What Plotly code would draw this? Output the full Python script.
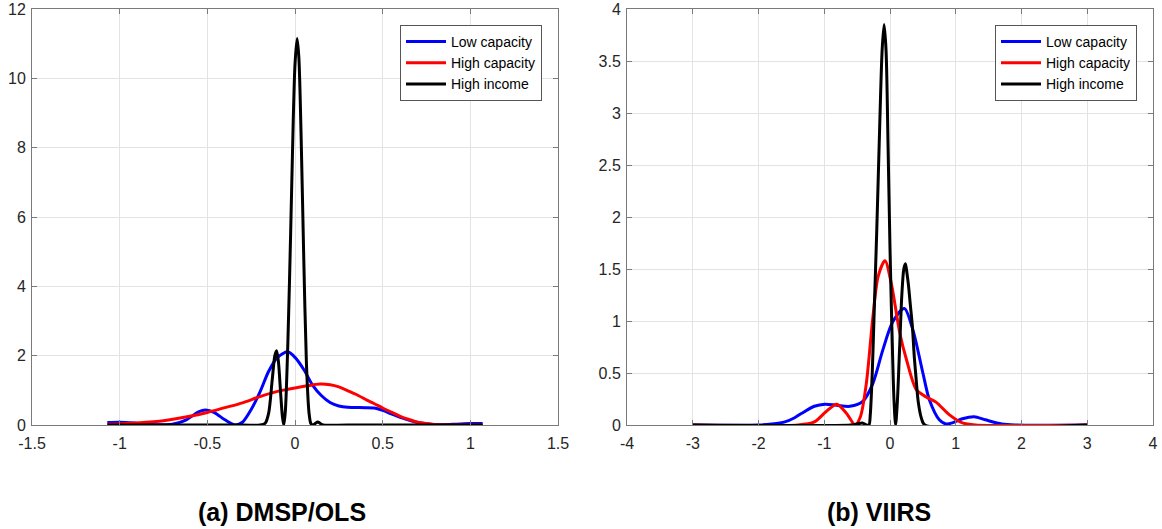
import plotly.graph_objects as go

# ---------------- Data ----------------
# (a) DMSP/OLS
a_low_x = [-1.07, -1.0, -0.9, -0.8, -0.7, -0.62, -0.55, -0.51, -0.46, -0.4, -0.34, -0.3, -0.25, -0.2, -0.15, -0.1,
           -0.042, 0.0, 0.05, 0.1, 0.15, 0.2, 0.25, 0.3, 0.4, 0.45, 0.5, 0.55, 0.6, 0.7, 0.8, 0.9, 1.0, 1.07]
a_low_y = [0.07, 0.08, 0.05, 0.01, 0.02, 0.15, 0.38, 0.43, 0.36, 0.15, 0.0, 0.08, 0.45, 0.95, 1.55, 1.95,
           2.11, 1.95, 1.6, 1.15, 0.85, 0.65, 0.55, 0.51, 0.5, 0.49, 0.42, 0.32, 0.22, 0.07, 0.01, 0.02, 0.04, 0.04]

a_high_x = [-1.07, -0.9, -0.75, -0.6, -0.5, -0.4, -0.3, -0.2, -0.1, 0.0, 0.07, 0.143, 0.2, 0.25, 0.31, 0.35,
            0.41, 0.45, 0.5, 0.55, 0.6, 0.65, 0.7, 0.77, 0.85, 0.95, 1.07]
a_high_y = [0.02, 0.06, 0.12, 0.25, 0.36, 0.5, 0.64, 0.82, 0.97, 1.07, 1.13, 1.18, 1.16, 1.1, 0.97, 0.88,
            0.72, 0.62, 0.49, 0.37, 0.25, 0.16, 0.08, 0.03, 0.0, 0.0, 0.0]

a_inc_x = [-1.07, -0.3, -0.2, -0.17, -0.15, -0.13, -0.115, -0.105, -0.095, -0.083, -0.072, -0.064, -0.055,
           -0.04, -0.025, -0.01, 0.0, 0.012, 0.022, 0.035, 0.05, 0.065, 0.08, 0.09, 0.1, 0.115, 0.13, 0.145, 0.16,
           0.3, 1.07]
a_inc_y = [0.0, 0.0, 0.0, 0.05, 0.35, 1.3, 2.0, 2.14, 1.85, 1.0, 0.25, 0.0, 0.4,
           2.5, 5.5, 8.8, 10.4, 11.15, 10.6, 8.3, 4.8, 1.8, 0.35, 0.05, 0.0, 0.04, 0.09, 0.04, 0.0,
           0.0, 0.0]

# (b) VIIRS
b_low_x = [-3.0, -2.0, -1.8, -1.6, -1.45, -1.35, -1.15, -0.99, -0.81, -0.61, -0.41, -0.26, -0.11, 0.04, 0.218,
           0.35, 0.5, 0.6, 0.75, 0.85, 0.95, 1.1, 1.28, 1.45, 1.7, 1.9, 3.0]
b_low_y = [0.0, 0.0, 0.01, 0.03, 0.07, 0.11, 0.18, 0.2, 0.19, 0.18, 0.23, 0.4, 0.72, 0.99, 1.12,
           0.91, 0.5, 0.24, 0.05, 0.01, 0.02, 0.06, 0.08, 0.05, 0.01, 0.0, 0.0]

b_high_x = [-3.0, -1.4, -1.15, -0.97, -0.81, -0.66, -0.53, -0.45, -0.36, -0.26, -0.18, -0.076, 0.02, 0.15,
            0.25, 0.4, 0.55, 0.7, 0.9, 1.1, 1.3, 3.0]
b_high_y = [0.0, 0.0, 0.03, 0.13, 0.2, 0.11, 0.0, 0.08, 0.4, 1.04, 1.43, 1.58, 1.36, 0.88,
            0.63, 0.34, 0.27, 0.22, 0.1, 0.02, 0.0, 0.0]

b_inc_x = [-3.0, -0.6, -0.5, -0.42, -0.36, -0.32, -0.3, -0.27, -0.24, -0.2, -0.16, -0.12, -0.09, -0.06, -0.03,
           0.0, 0.03, 0.06, 0.085, 0.11, 0.15, 0.18, 0.21, 0.235, 0.26, 0.28, 0.31, 0.34, 0.37, 0.39, 0.43, 0.48,
           0.53, 3.0]
b_inc_y = [0.0, 0.0, 0.01, 0.02, 0.0, 0.0, 0.1, 0.5, 1.1, 1.9, 2.8, 3.6, 3.85, 3.6, 2.7,
           1.7, 0.9, 0.25, 0.0, 0.2, 0.8, 1.25, 1.5, 1.55, 1.45, 1.35, 1.15, 0.95, 0.65, 0.5, 0.22, 0.06,
           0.0, 0.0]

series_names = ["Low capacity", "High capacity", "High income"]
series_colors = ["#0000ff", "#ff0000", "#000000"]

a_xticks = [-1.5, -1, -0.5, 0, 0.5, 1, 1.5]
a_xtext = ["-1.5", "-1", "-0.5", "0", "0.5", "1", "1.5"]
a_yticks = [0, 2, 4, 6, 8, 10, 12]
a_ytext = ["0", "2", "4", "6", "8", "10", "12"]
b_xticks = [-4, -3, -2, -1, 0, 1, 2, 3, 4]
b_xtext = ["-4", "-3", "-2", "-1", "0", "1", "2", "3", "4"]
b_yticks = [0, 0.5, 1, 1.5, 2, 2.5, 3, 3.5, 4]
b_ytext = ["0", "0.5", "1", "1.5", "2", "2.5", "3", "3.5", "4"]

titles = ["(a) DMSP/OLS", "(b) VIIRS"]

# ---------------- Figure ----------------
W, H = 1162, 529
FONT = "Liberation Sans, Arial, Helvetica, sans-serif"
fig = go.Figure()

a_data = [(a_low_x, a_low_y), (a_high_x, a_high_y), (a_inc_x, a_inc_y)]
b_data = [(b_low_x, b_low_y), (b_high_x, b_high_y), (b_inc_x, b_inc_y)]

for i, (xs, ys) in enumerate(a_data):
    fig.add_trace(go.Scatter(x=xs, y=ys, mode="lines", name=series_names[i],
                             line=dict(color=series_colors[i], width=3, shape="spline", smoothing=0.8),
                             xaxis="x", yaxis="y", legend="legend"))
for i, (xs, ys) in enumerate(b_data):
    fig.add_trace(go.Scatter(x=xs, y=ys, mode="lines", name=series_names[i],
                             line=dict(color=series_colors[i], width=3, shape="spline", smoothing=0.8),
                             xaxis="x2", yaxis="y2", legend="legend2"))

ydom = [1 - 425 / H, 1 - 9 / H]
axis_common = dict(showline=True, linecolor="#7a7a7a", linewidth=1, mirror="ticks",
                   ticks="inside", ticklen=5, tickcolor="#7a7a7a", automargin=False,
                   showgrid=True, gridcolor="#e3e3e3", gridwidth=1, zeroline=False,
                   tickfont=dict(family=FONT, size=16, color="#262626"))
xstyle = dict(axis_common, ticklabelstandoff=4)
ystyle = dict(axis_common, ticklabelstandoff=2)

fig.update_layout(
    width=W, height=H, margin=dict(l=0, r=0, t=0, b=0, autoexpand=False),
    paper_bgcolor="white", plot_bgcolor="white",
    xaxis=dict(domain=[32 / W, 558 / W], range=[-1.5, 1.5], tickvals=a_xticks, ticktext=a_xtext,
               anchor="y", **xstyle),
    yaxis=dict(domain=ydom, range=[0, 12], tickvals=a_yticks, ticktext=a_ytext, anchor="x", **ystyle),
    xaxis2=dict(domain=[627 / W, 1153 / W], range=[-4, 4], tickvals=b_xticks, ticktext=b_xtext,
                anchor="y2", **xstyle),
    yaxis2=dict(domain=ydom, range=[0, 4], tickvals=b_yticks, ticktext=b_ytext, anchor="x2", **ystyle),
    legend=dict(x=542 / W, xanchor="right", y=1 - 25 / H, yanchor="top",
                bgcolor="white", bordercolor="#555555", borderwidth=1, itemwidth=40,
                font=dict(family=FONT, size=14, color="#000000"), tracegroupgap=0),
    legend2=dict(x=1137 / W, xanchor="right", y=1 - 25 / H, yanchor="top",
                 bgcolor="white", bordercolor="#555555", borderwidth=1, itemwidth=40,
                 font=dict(family=FONT, size=14, color="#000000"), tracegroupgap=0),
    showlegend=True,
)

for t, cx in zip(titles, [282, 879]):
    fig.add_annotation(text=f"<b>{t}</b>", x=cx / W, y=1 - 512 / H, xref="paper", yref="paper",
                       showarrow=False, xanchor="center", yanchor="middle",
                       font=dict(family=FONT, size=25, color="#000000"))

fig.write_html("out.html")
